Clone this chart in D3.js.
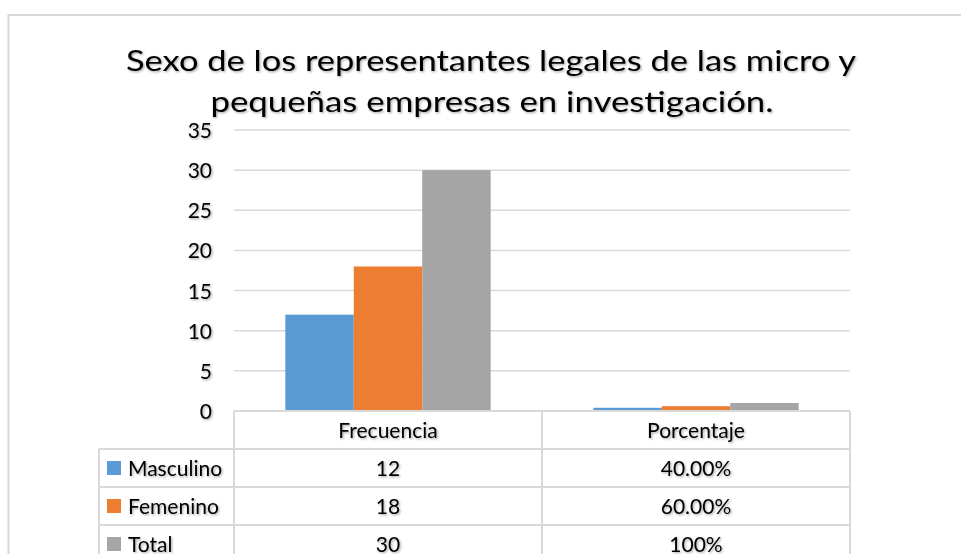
<!DOCTYPE html>
<html>
<head>
<meta charset="utf-8">
<script src="https://cdn.jsdelivr.net/npm/d3@7"></script>
<style>
  html, body { margin: 0; padding: 0; background: #fff; }
  svg { display: block; }
  text { font-family: Lato, "Open Sans", sans-serif; fill: #000; }
</style>
</head>
<body>
<svg id="chart" width="961" height="554"></svg>
<script>
const titleLines = ["Sexo de los representantes legales de las micro y", "pequeñas empresas en investigación."];
const categories = ["Frecuencia", "Porcentaje"];
const seriesNames = ["Masculino", "Femenino", "Total"];
const masculino = [12, 0.4];
const femenino = [18, 0.6];
const total = [30, 1];
const tableMasculino = ["12", "40.00%"];
const tableFemenino = ["18", "60.00%"];
const tableTotal = ["30", "100%"];
const yTicks = [0, 5, 10, 15, 20, 25, 30, 35];
const colors = ["#5B9BD5", "#ED7D31", "#A5A5A5"];

const seriesValues = [masculino, femenino, total];
const tableValues = [tableMasculino, tableFemenino, tableTotal];

const svg = d3.select("#chart");
const defs = svg.append("defs");
const f = defs.append("filter").attr("id", "sh").attr("x", "-10%").attr("y", "-20%").attr("width", "130%").attr("height", "150%");
f.append("feDropShadow").attr("dx", 1.2).attr("dy", 1.2).attr("stdDeviation", 1.1)
  .attr("flood-color", "#000").attr("flood-opacity", 0.35);

const gridColor = "#d9d9d9";

// outer chart border
svg.append("rect").attr("x", 8.5).attr("y", 15).attr("width", 970).attr("height", 560)
  .attr("fill", "none").attr("stroke", gridColor).attr("stroke-width", 2);

// title
const titleG = svg.append("g").attr("filter", "url(#sh)");
titleG.append("text").attr("x", 491).attr("y", 71).attr("text-anchor", "middle")
  .attr("font-size", 29).attr("textLength", 730).attr("lengthAdjust", "spacingAndGlyphs")
  .text(titleLines[0]);
titleG.append("text").attr("x", 492).attr("y", 112).attr("text-anchor", "middle")
  .attr("font-size", 29).attr("textLength", 563).attr("lengthAdjust", "spacingAndGlyphs")
  .text(titleLines[1]);

const plotLeft = 234, plotRight = 850, plotTop = 130, plotBottom = 411;
const x = d3.scaleBand().domain(categories).range([plotLeft, plotRight]).padding(0);
const xs = d3.scaleBand().domain(seriesNames).range([0, x.bandwidth()]).paddingInner(0).paddingOuter(0.75);
const y = d3.scaleLinear().domain([0, 35]).range([plotBottom, plotTop]);

// gridlines
svg.append("g").selectAll("line").data(yTicks).join("line")
  .attr("x1", plotLeft).attr("x2", plotRight)
  .attr("y1", d => y(d)).attr("y2", d => y(d))
  .attr("stroke", gridColor).attr("stroke-width", 1.5);

// y axis labels via d3 axis
const yAxis = svg.append("g").attr("transform", `translate(${plotLeft - 22},0)`)
  .call(d3.axisLeft(y).tickValues(yTicks).tickSize(0).tickPadding(0));
yAxis.select(".domain").remove();
yAxis.selectAll("text").attr("font-family", "Lato, sans-serif").attr("font-size", 21)
  .attr("fill", "#000").attr("dy", "0.36em").attr("filter", "url(#sh)");

// bars
seriesNames.forEach((s, si) => {
  svg.append("g").selectAll("rect").data(categories).join("rect")
    .attr("x", c => x(c) + xs(s))
    .attr("width", xs.bandwidth())
    .attr("y", (c, ci) => y(seriesValues[si][ci]))
    .attr("height", (c, ci) => y(0) - y(seriesValues[si][ci]))
    .attr("fill", colors[si]);
});

// data table
const legendLeft = 99;
const headerTop = 411, rowH = 38;
const tg = svg.append("g");
const lineAttr = sel => sel.attr("stroke", gridColor).attr("stroke-width", 2);
lineAttr(tg.append("line").attr("x1", plotLeft).attr("x2", plotRight).attr("y1", headerTop).attr("y2", headerTop));
for (let i = 1; i <= 4; i++) {
  lineAttr(tg.append("line").attr("x1", legendLeft).attr("x2", plotRight)
    .attr("y1", headerTop + i * rowH).attr("y2", headerTop + i * rowH));
}
[plotLeft, x("Porcentaje"), plotRight].forEach(vx => {
  lineAttr(tg.append("line").attr("x1", vx).attr("x2", vx).attr("y1", headerTop).attr("y2", 560));
});
lineAttr(tg.append("line").attr("x1", legendLeft).attr("x2", legendLeft).attr("y1", headerTop + rowH).attr("y2", 560));

const txt = svg.append("g").attr("filter", "url(#sh)");
txt.selectAll("text.h").data(categories).join("text").attr("class", "h")
  .attr("x", c => x(c) + x.bandwidth() / 2).attr("y", headerTop + rowH / 2)
  .attr("dy", "0.36em").attr("text-anchor", "middle").attr("font-size", 21)
  .text(c => c);
seriesNames.forEach((s, si) => {
  const cy = headerTop + rowH * (si + 1) + rowH / 2;
  svg.append("rect").attr("x", 107).attr("y", cy - 7).attr("width", 14).attr("height", 14).attr("fill", colors[si]);
  txt.append("text").attr("x", 128).attr("y", cy).attr("dy", "0.36em").attr("font-size", 21).text(s);
  categories.forEach((c, ci) => {
    txt.append("text").attr("x", x(c) + x.bandwidth() / 2).attr("y", cy).attr("dy", "0.36em")
      .attr("text-anchor", "middle").attr("font-size", 21).text(tableValues[si][ci]);
  });
});
</script>
</body>
</html>
